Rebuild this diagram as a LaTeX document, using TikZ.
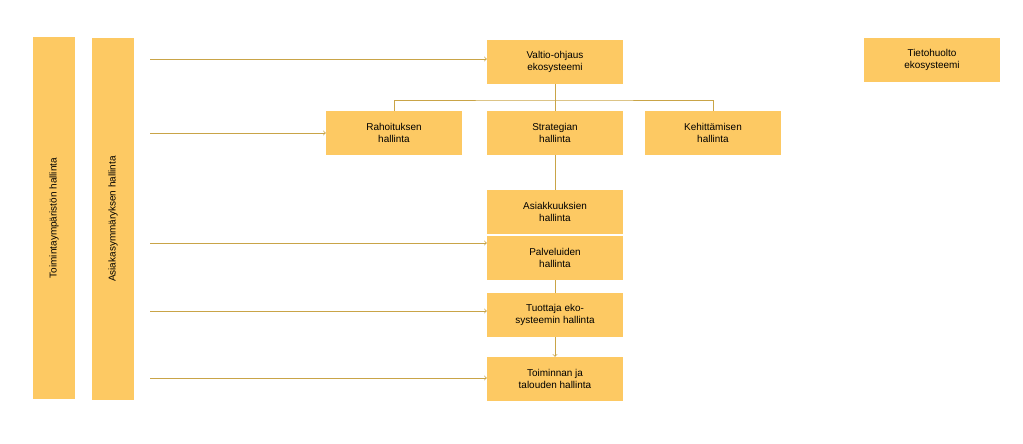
\documentclass[tikz,border=0pt]{standalone}
\usepackage{fontspec}
\setmainfont{Liberation Sans}
\usepackage{tikz}
\usetikzlibrary{arrows,positioning,calc}
\definecolor{boxfill}{HTML}{FDC963}
\definecolor{linecol}{HTML}{C9A447}

\begin{document}
\begin{tikzpicture}[x=1bp,y=-1bp,font=\fontsize{10}{11.5}\selectfont]

\tikzset{unit/.style={
  rectangle,
  inner sep=0pt,
  align=center,
  fill=boxfill,
  minimum width=136bp,
  minimum height=44bp
  }}
\tikzset{bar/.style={
  rectangle, inner sep=0pt, fill=boxfill,
  minimum width=42bp, minimum height=361bp
  }}
\tikzset{link/.style={draw=linecol, line width=0.8pt}}

\useasboundingbox (0,0) rectangle (1023,444);

\node[bar] (tym) at (54,218) {};
\node[rotate=90] at (tym.center) {Toimintaympäristön hallinta};
\node[bar] (asy) at (113,219) {};
\node[rotate=90] at (asy.center) {Asiakasymmäryksen hallinta};

\node[unit] (valtio) at (555,62) {Valtio-ohjaus\\ekosysteemi};
\node[unit] (tieto) at (932,60) {Tietohuolto\\ekosysteemi};
\node[unit] (rahoitus) at (394,133) {Rahoituksen\\hallinta};
\node[unit] (strategia) at (555,133) {Strategian\\hallinta};
\node[unit] (kehitys) at (713,133) {Kehittämisen\\hallinta};
\node[unit] (asiakas) at (555,212) {Asiakkuuksien\\hallinta};
\node[unit] (palvelu) at (555,258) {Palveluiden\\hallinta};
\node[unit] (tuottaja) at (555,315) {Tuottaja eko-\\systeemin hallinta};
\node[unit] (talous) at (555,379) {Toiminnan ja\\talouden hallinta};

\coordinate (split) at (555,100);
\path[link] (valtio) -- (split);
\path[link] (rahoitus.north) |- (split) -| (kehitys.north);
\path[link] (split) -- (strategia);
\path[link] (strategia) -- (asiakas);
\path[link] (palvelu) -- (tuottaja);
\path[link,->] (tuottaja) -- (talous);

\coordinate (a1) at (150,59);
\coordinate (a2) at (150,133);
\coordinate (a3) at (150,243);
\coordinate (a4) at (150,311);
\coordinate (a5) at (150,378);
\path[link,->] (a1) -- (a1 -| valtio.west);
\path[link,->] (a2) -- (a2 -| rahoitus.west);
\path[link,->] (a3) -- (a3 -| palvelu.west);
\path[link,->] (a4) -- (a4 -| tuottaja.west);
\path[link,->] (a5) -- (a5 -| talous.west);
\end{tikzpicture}
\end{document}
